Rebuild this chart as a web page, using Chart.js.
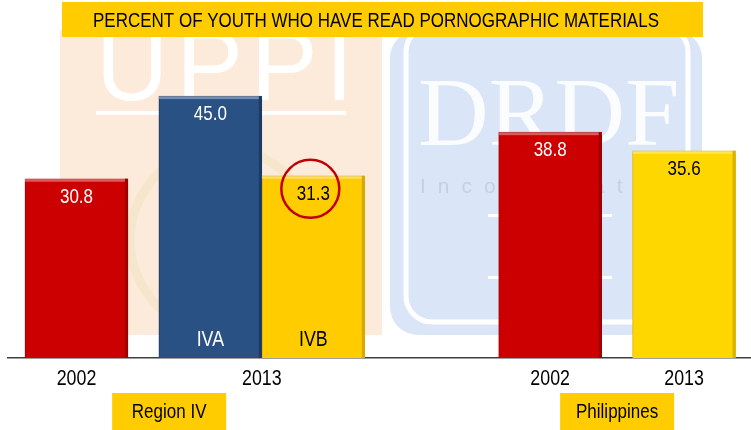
<!DOCTYPE html>
<html lang="en">
<head>
    <meta charset="UTF-8">
    <title>Percent of youth who have read pornographic materials</title>
    <script src="https://cdn.jsdelivr.net/npm/chart.js@4.4.1/dist/chart.umd.min.js"></script>
    <style>
        body {
            margin: 0;
            padding: 0;
            background-color: #fff;
        }

        #chart-container {
            width: 751px;
            height: 430px;
        }
    </style>
</head>
<body>
    <div id="chart-container">
        <canvas id="myChart" width="751" height="430"></canvas>
    </div>

    <script>
        // Data
        const chartTitle = 'PERCENT OF YOUTH WHO HAVE READ PORNOGRAPHIC MATERIALS';
        const groups = ['Region IV', 'Philippines'];
        const years = ['2002', '2013', '2002', '2013'];
        const yearGroup = [0, 0, 1, 1];          // which group each year belongs to
        const barYear = [0, 1, 1, 2, 3];         // which year each bar belongs to
        const barNames = ['', 'IVA', 'IVB', '', ''];
        const values = [30.8, 45.0, 31.3, 38.8, 35.6];
        const circled = [false, false, true, false, false];

        // Styles
        const barColors = ['#CC0000', '#2A5183', '#FFCC00', '#CC0000', '#FFD700'];
        const barEdges = ['#9E0000', '#1C3A62', '#D9A800', '#9E0000', '#D9B200'];
        const labelColors = ['#fff', '#fff', '#000', '#fff', '#000'];
        const FONT = '"Liberation Sans", Arial, sans-serif';
        const SQUEEZE = 0.81;   // the original uses a narrow face; squeeze the regular one
        const YEAR_GAP = 0.3;   // space between years inside a group, in bar widths
        const GROUP_GAP = 1.3;  // space between the two groups, in bar widths

        // Bar positions along the x axis (one unit = one bar width)
        const xPos = [];
        barYear.forEach((yr, i) => {
            if (i === 0) { xPos.push(0); return; }
            const prev = barYear[i - 1];
            let step = 1;
            if (yr !== prev) {
                step += yearGroup[yr] === yearGroup[prev] ? YEAR_GAP : GROUP_GAP;
            }
            xPos.push(xPos[i - 1] + step);
        });

        const yearCenters = years.map((_, y) => {
            const xs = xPos.filter((_, i) => barYear[i] === y);
            return xs.reduce((a, b) => a + b, 0) / xs.length;
        });
        const groupCenters = groups.map((_, g) => {
            const xs = yearCenters.filter((_, y) => yearGroup[y] === g);
            return xs.reduce((a, b) => a + b, 0) / xs.length;
        });

        // draw text condensed horizontally
        function narrowText(ctx, text, x, y, size, squeeze) {
            ctx.save();
            ctx.font = size + 'px ' + FONT;
            ctx.translate(x, y);
            ctx.scale(squeeze || SQUEEZE, 1);
            ctx.fillText(text, 0, 0);
            ctx.restore();
        }

        // Faded logos behind the bars
        const backdrop = {
            id: 'backdrop',
            beforeDraw(chart) {
                const ctx = chart.ctx;
                ctx.save();
                ctx.fillStyle = '#fff';
                ctx.fillRect(0, 0, chart.width, chart.height);

                // left logo panel
                ctx.fillStyle = '#FCEBDB';
                ctx.fillRect(60, 30, 322, 305);
                ctx.strokeStyle = 'rgba(240, 225, 185, 0.45)';
                ctx.lineWidth = 9;
                ctx.beginPath();
                ctx.arc(222, 240, 92, 0, Math.PI * 2);
                ctx.stroke();
                ctx.fillStyle = '#fff';
                ctx.font = '100px "Liberation Sans", sans-serif';
                ctx.textAlign = 'left';
                ctx.textBaseline = 'alphabetic';
                ctx.letterSpacing = '8px';
                ctx.fillText('UPPI', 96, 100);
                ctx.letterSpacing = '0px';
                ctx.fillRect(96, 111, 250, 4);

                // right logo panel
                ctx.fillStyle = '#DAE6F7';
                ctx.beginPath();
                ctx.roundRect(390, 30, 312, 305, 28);
                ctx.fill();
                ctx.strokeStyle = '#fff';
                ctx.lineWidth = 5;
                ctx.beginPath();
                ctx.roundRect(406, 26, 282, 296, 26);
                ctx.stroke();
                ctx.fillStyle = 'rgba(255, 255, 255, 0.85)';
                ctx.font = '98px "Liberation Serif", "DejaVu Serif", serif';
                ctx.fillText('DRDF', 418, 145);
                ctx.fillStyle = '#C6D0DE';
                ctx.font = '21px ' + FONT;
                ctx.letterSpacing = '12px';
                ctx.fillText('Incorporated', 420, 193);
                ctx.letterSpacing = '0px';
                ctx.fillStyle = '#fff';
                ctx.fillRect(488, 214, 124, 3);
                ctx.fillRect(488, 276, 124, 3);
                ctx.restore();
            }
        };

        // Value labels, bar names, highlight circle, title, year ticks and group boxes
        const decorations = {
            id: 'decorations',
            afterDatasetsDraw(chart) {
                const ctx = chart.ctx;
                const bars = chart.getDatasetMeta(0).data;
                ctx.save();
                ctx.textAlign = 'center';
                ctx.textBaseline = 'middle';
                bars.forEach((bar, i) => {
                    const half = bar.width / 2;
                    // little bevel on the edges
                    ctx.fillStyle = 'rgba(255, 255, 255, 0.35)';
                    ctx.fillRect(bar.x - half, bar.y, bar.width, 3);
                    ctx.fillStyle = barEdges[i];
                    ctx.fillRect(bar.x + half - 3, bar.y, 3, bar.base - bar.y);

                    ctx.fillStyle = labelColors[i];
                    narrowText(ctx, values[i].toFixed(1), bar.x, bar.y + 18, 21);
                    if (barNames[i]) {
                        narrowText(ctx, barNames[i], bar.x, bar.base - 18, 22);
                    }
                    if (circled[i]) {
                        ctx.strokeStyle = '#C00000';
                        ctx.lineWidth = 2.5;
                        ctx.beginPath();
                        ctx.arc(bar.x - 3, bar.y + 13, 29, 0, Math.PI * 2);
                        ctx.stroke();
                    }
                });
                ctx.restore();
            },
            afterDraw(chart) {
                const ctx = chart.ctx;
                const xScale = chart.scales.x;
                ctx.save();
                ctx.textAlign = 'center';
                ctx.textBaseline = 'middle';

                // title box
                ctx.fillStyle = '#FFCC00';
                ctx.fillRect(62, 2, 641, 35);
                ctx.fillStyle = '#000';
                ctx.font = '20px ' + FONT;
                const fit = 566 / ctx.measureText(chartTitle).width;
                narrowText(ctx, chartTitle, 376, 21, 20, fit);

                // year labels at the axis ticks
                xScale.ticks.forEach((t, i) => {
                    narrowText(ctx, years[i], xScale.getPixelForTick(i), 379, 22);
                });

                // group boxes
                groups.forEach((g, i) => {
                    const cx = xScale.getPixelForValue(groupCenters[i]);
                    ctx.fillStyle = '#FFCC00';
                    ctx.fillRect(cx - 57, 393, 114, 37);
                    ctx.fillStyle = '#000';
                    narrowText(ctx, g, cx, 412, 21);
                });
                ctx.restore();
            }
        };

        const ctx = document.getElementById('myChart').getContext('2d');
        const myChart = new Chart(ctx, {
            type: 'bar',
            data: {
                datasets: [{
                    data: values.map((v, i) => ({ x: xPos[i], y: v })),
                    backgroundColor: barColors,
                    borderColor: barEdges,
                    borderWidth: 1,
                    barPercentage: 1,
                    categoryPercentage: 1
                }]
            },
            options: {
                responsive: false,
                animation: false,
                layout: {
                    padding: { top: 67, left: 8, right: 0, bottom: 0 }
                },
                scales: {
                    x: {
                        type: 'linear',
                        offset: false,
                        min: xPos[0] - 0.665,
                        max: xPos[xPos.length - 1] + 0.65,
                        grid: { display: false, drawTicks: false },
                        border: { display: true, color: '#404040', width: 1.5 },
                        afterBuildTicks: scale => {
                            scale.ticks = yearCenters.map(v => ({ value: v }));
                        },
                        afterFit: scale => { scale.height = 72; },
                        ticks: { display: false }
                    },
                    y: {
                        display: false,
                        min: 0,
                        max: 50
                    }
                },
                plugins: {
                    legend: { display: false },
                    tooltip: { enabled: false }
                }
            },
            plugins: [backdrop, decorations]
        });
    </script>
</body>
</html>
